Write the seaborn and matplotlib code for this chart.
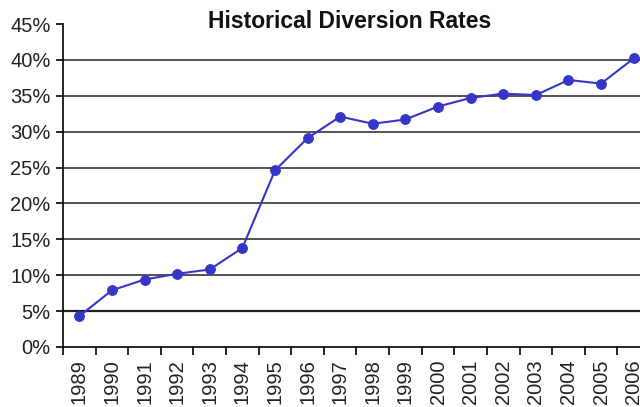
import numpy as np
import pandas as pd
import matplotlib
matplotlib.use("Agg")
import matplotlib.pyplot as plt
import seaborn as sns
from matplotlib.ticker import FixedLocator, PercentFormatter

# data
years = ["1989", "1990", "1991", "1992", "1993", "1994", "1995", "1996", "1997",
         "1998", "1999", "2000", "2001", "2002", "2003", "2004", "2005", "2006"]
rates = [4.3, 7.9, 9.4, 10.2, 10.8, 13.8, 24.6, 29.1, 32.1,
         31.1, 31.7, 33.5, 34.7, 35.3, 35.1, 37.2, 36.7, 40.2]
yticks = [0, 5, 10, 15, 20, 25, 30, 35, 40, 45]

df = pd.DataFrame({"year": years, "rate": rates})

sns.set_style("white")
plt.rcParams["font.family"] = ["Liberation Sans", "DejaVu Sans"]

fig = plt.figure(figsize=(6.4, 4.07), dpi=100)
ax = fig.add_axes([63 / 640, 60 / 407, 587 / 640, 323 / 407])

# horizontal grid lines
for v in yticks[1:-1]:
    ax.axhline(v, color="#222222" if v == 5 else "#444444", lw=1.6 if v == 5 else 1.3, zorder=1)

sns.lineplot(data=df, x="year", y="rate", ax=ax, color="#3535C8", lw=1.5,
             marker="o", markersize=7, markeredgecolor="#3535C8", sort=False, zorder=3)

ax.set_xlim(-0.5, len(years) - 0.5)
ax.set_ylim(0, 45)
ax.set_yticks(yticks)
ax.yaxis.set_major_formatter(PercentFormatter(decimals=0))
ax.set_xticks(range(len(years)))
ax.set_xticklabels(years, rotation=90, fontsize=14.5, color="#222222")
ax.xaxis.set_minor_locator(FixedLocator(np.arange(-0.5, len(years), 1)))
ax.tick_params(axis="x", which="major", length=0, pad=9)
ax.tick_params(axis="x", which="minor", length=6, width=1.2, color="black", direction="out", bottom=True)
ax.tick_params(axis="y", length=5, width=1.2, color="black", direction="out", left=True,
               labelsize=14.5, labelcolor="#222222", pad=4)

for s in ["top", "right"]:
    ax.spines[s].set_visible(False)
for s in ["left", "bottom"]:
    ax.spines[s].set_color("black")
    ax.spines[s].set_linewidth(1.2)

ax.set_xlabel("")
ax.set_ylabel("")
fig.text(350 / 640, 1 - 21 / 407, "Historical Diversion Rates", ha="center", va="center",
         fontsize=16.5, fontweight="bold", color="#111111")

fig.savefig("out.png", dpi=100)
